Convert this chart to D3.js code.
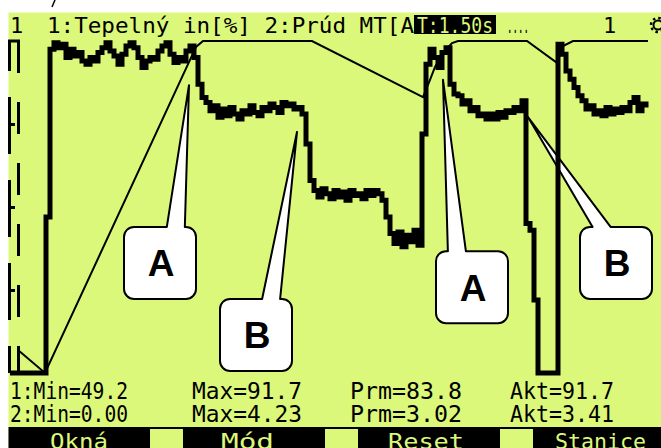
<!DOCTYPE html>
<html>
<head>
<meta charset="utf-8">
<script src="https://cdn.jsdelivr.net/npm/d3@7"></script>
<style>
  html, body { margin: 0; padding: 0; background: #fff; }
  svg { display: block; }
  .lcd { font-family: "DejaVu Sans Mono", monospace; }
</style>
</head>
<body>
<svg id="chart" width="661" height="448"></svg>
<script>
const prud = [
  0, 0, 0, 0, 0, 0, 0, 0, 0, 47,
  97.5, 99.5, 98, 99, 95, 97.5, 95.5, 96.5, 94, 93, 95, 94, 96.5, 98, 99.5, 97, 95.5, 93,
  96, 98.5, 99.5, 98, 95, 92, 94, 95, 94.5, 97, 98.5, 99.5, 96, 93.5, 95, 94, 97, 98.5,
  95, 87, 83, 81.5, 79, 80.5, 77, 79.5, 77.5, 80, 78, 76.5, 79, 78, 80.5, 78.5, 77.5, 80,
  79, 81, 80, 78.5, 81.5, 80.5, 81, 79.5, 80, 78,
  69, 58, 55, 53, 55.5, 54, 52.5, 55, 53, 54.5, 52, 55, 53.5, 54, 52.5, 55, 53.5, 55, 54, 52,
  47, 42, 39, 42.5, 38, 41.5, 39.5, 43, 38.5,
  72, 93, 97.5, 95, 92, 96.5, 98,
  87, 84, 83.5, 81, 82, 79, 80, 77.5, 78, 76.5, 78, 76.5, 78.5, 77, 79, 78.5, 80, 79, 82,
  45, 43, 22, 0, 0, 0, 0, 0,
  99, 96, 91, 88.5, 86, 83.5, 82, 79.5, 80.5, 78, 79, 77.5, 80, 78, 79.5, 78.5, 80, 79,
  81.5, 83, 79, 81, 80
];

// thin trace: time step and value
const tepelnyT = [2, 8.75, 45, 46.5, 48.25, 75.5, 103.25, 105, 106.25, 108.25, 110.5, 112, 129.25, 136.75, 138.25, 140.75, 159.5];
const tepelnyV = [6.9, 0, 94.3, 98.2, 100, 100, 83.1, 88.3, 92.2, 96.4, 99.4, 100, 100, 93.4, 98.5, 100, 100];

const headerLabels = ["1", "1:Tepelný in[%] 2:Prúd MT[A", "T:1.50s", "....", "1"];
const statNames = ["Min", "Max", "Prm", "Akt"];
const stats1 = ["49.2", "91.7", "83.8", "91.7"];
const stats2 = ["0.00", "4.23", "3.02", "3.41"];
const softKeys = ["Okná", "Mód", "Reset", "Stanice"];

// callouts: box corner and tip in data units, anchor = where the tail leaves the box top
const callouts = [
  { label: "A", x: 28.5, y: 44, tipX: 44.75, tipY: 86.7, anchor: 0.72 },
  { label: "B", x: 52.5, y: 22.3, tipX: 71.75, tipY: 72.6, anchor: 0.71 },
  { label: "A", x: 106.5, y: 36.7, tipX: 108.25, tipY: 88.3, anchor: 0.29 },
  { label: "B", x: 142.5, y: 44, tipX: 129.5, tipY: 77.1, anchor: 0.3 }
];

const W = 661, H = 448;
const LCD = "#dcf87a";

const svg = d3.select("#chart");

const x = d3.scaleLinear().domain([0, 160]).range([10, 650]);
const y = d3.scaleLinear().domain([0, 100]).range([373, 41]);

// screen background
svg.append("rect").attr("x", 8.5).attr("y", 12.5).attr("width", W - 8.5).attr("height", H - 12.5).attr("fill", LCD);
svg.append("line").attr("x1", 55).attr("y1", 0).attr("x2", 52).attr("y2", 7).attr("stroke", "#000").attr("stroke-width", 1.5);

// header line
const header = svg.append("g").attr("class", "lcd").attr("font-size", 22);
header.append("text").attr("x", 10).attr("y", 33).text(headerLabels[0]);
header.append("text").attr("x", 47).attr("y", 33).attr("textLength", 367).attr("lengthAdjust", "spacingAndGlyphs").text(headerLabels[1]);
header.append("rect").attr("x", 414).attr("y", 15).attr("width", 82).attr("height", 19).attr("fill", "#000");
header.append("text").attr("x", 417).attr("y", 33).attr("fill", LCD).attr("textLength", 76).attr("lengthAdjust", "spacingAndGlyphs").text(headerLabels[2]);
header.append("text").attr("x", 507).attr("y", 33).attr("textLength", 22).attr("lengthAdjust", "spacingAndGlyphs").text(headerLabels[3]);
header.append("text").attr("x", 603).attr("y", 33).text(headerLabels[4]);
// settings wheel, cut by the screen edge
header.append("circle").attr("cx", 658).attr("cy", 25).attr("r", 4.5).attr("fill", "none").attr("stroke", "#000").attr("stroke-width", 2);
header.append("circle").attr("cx", 658).attr("cy", 25).attr("r", 7).attr("fill", "none").attr("stroke", "#000").attr("stroke-width", 2.5).attr("stroke-dasharray", "2.5,3");

// left scale: two dashed rails and quarter ticks
const axis = svg.append("g");
axis.append("line").attr("x1", 9.5).attr("x2", 9.5).attr("y1", y(100)).attr("y2", y(0))
  .attr("stroke", "#000").attr("stroke-width", 3).attr("stroke-dasharray", "57,26").attr("stroke-dashoffset", 27);
axis.append("line").attr("x1", 18.5).attr("x2", 18.5).attr("y1", y(100)).attr("y2", y(0))
  .attr("stroke", "#000").attr("stroke-width", 3).attr("stroke-dasharray", "32,29");
axis.append("line").attr("x1", 8).attr("x2", 20).attr("y1", y(100)).attr("y2", y(100)).attr("stroke", "#000").attr("stroke-width", 3);
const yAxis = axis.append("g").attr("transform", "translate(8,0)")
  .call(d3.axisRight(y).tickValues([25, 50, 75]).tickSize(7).tickFormat(""));
yAxis.select(".domain").remove();
yAxis.selectAll(".tick line").attr("stroke", "#000").attr("stroke-width", 3);

// callouts (behind the traces)
const boxSize = 72, radius = 10, tailWidth = 18;
function calloutPath(d) {
  const x0 = x(d.x), y0 = y(d.y);
  const b = x0 + d.anchor * boxSize;
  const p = d3.path();
  p.moveTo(x0 + radius, y0);
  p.lineTo(b - tailWidth / 2, y0);
  p.lineTo(x(d.tipX), y(d.tipY));
  p.lineTo(b + tailWidth / 2, y0);
  p.arcTo(x0 + boxSize, y0, x0 + boxSize, y0 + boxSize, radius);
  p.arcTo(x0 + boxSize, y0 + boxSize, x0, y0 + boxSize, radius);
  p.arcTo(x0, y0 + boxSize, x0, y0, radius);
  p.arcTo(x0, y0, x0 + boxSize, y0, radius);
  p.closePath();
  return p.toString();
}
const notes = svg.append("g").selectAll("g").data(callouts).join("g");
notes.append("path").attr("d", calloutPath)
  .attr("fill", "#fff").attr("stroke", "#000").attr("stroke-width", 2).attr("stroke-linejoin", "round");
notes.append("text")
  .attr("x", d => x(d.x) + boxSize / 2 + 1)
  .attr("y", d => y(d.y) + boxSize / 2 + 13.5)
  .attr("text-anchor", "middle")
  .attr("font-family", "Liberation Sans, Arial, sans-serif")
  .attr("font-weight", "bold").attr("font-size", 37)
  .text(d => d.label);

// thin trace
const thinLine = d3.line().x(d => x(d[0])).y(d => y(d[1]));
svg.append("path")
  .datum(d3.zip(tepelnyT, tepelnyV))
  .attr("d", thinLine)
  .attr("fill", "none").attr("stroke", "#000").attr("stroke-width", 2);

// thick stepped trace
const thickLine = d3.line().x((d, i) => x(i)).y(d => y(d)).curve(d3.curveStepAfter);
svg.append("path")
  .datum(prud)
  .attr("d", thickLine)
  .attr("fill", "none").attr("stroke", "#000").attr("stroke-width", 5).attr("stroke-linejoin", "miter");

// statistics rows
const colX = [10, 192, 350, 510];
const colW = [[118, 110, 112, 104], [118, 110, 112, 104]];
const stats = svg.append("g").attr("class", "lcd").attr("font-size", 23);
[stats1, stats2].forEach((row, r) => {
  row.forEach((v, c) => {
    const label = (c === 0 ? (r + 1) + ":" : "") + statNames[c] + "=" + v;
    stats.append("text")
      .attr("x", colX[c]).attr("y", 399 + r * 23)
      .attr("textLength", colW[r][c]).attr("lengthAdjust", "spacingAndGlyphs")
      .text(label);
  });
});

// soft key bar
const bar = svg.append("g").attr("class", "lcd").attr("font-size", 22);
bar.append("rect").attr("x", 8.5).attr("y", 427).attr("width", W - 8.5).attr("height", H - 427).attr("fill", "#000");
[150, 325, 500].forEach(bx => {
  bar.append("rect").attr("x", bx).attr("y", 429).attr("width", 33).attr("height", H - 429).attr("fill", LCD);
});
const keyX = [50, 221, 388, 555], keyW = [58, 53, 76, 91];
softKeys.forEach((k, i) => {
  bar.append("text").attr("x", keyX[i]).attr("y", 449).attr("fill", LCD)
    .attr("textLength", keyW[i]).attr("lengthAdjust", "spacingAndGlyphs").text(k);
});
</script>
</body>
</html>
